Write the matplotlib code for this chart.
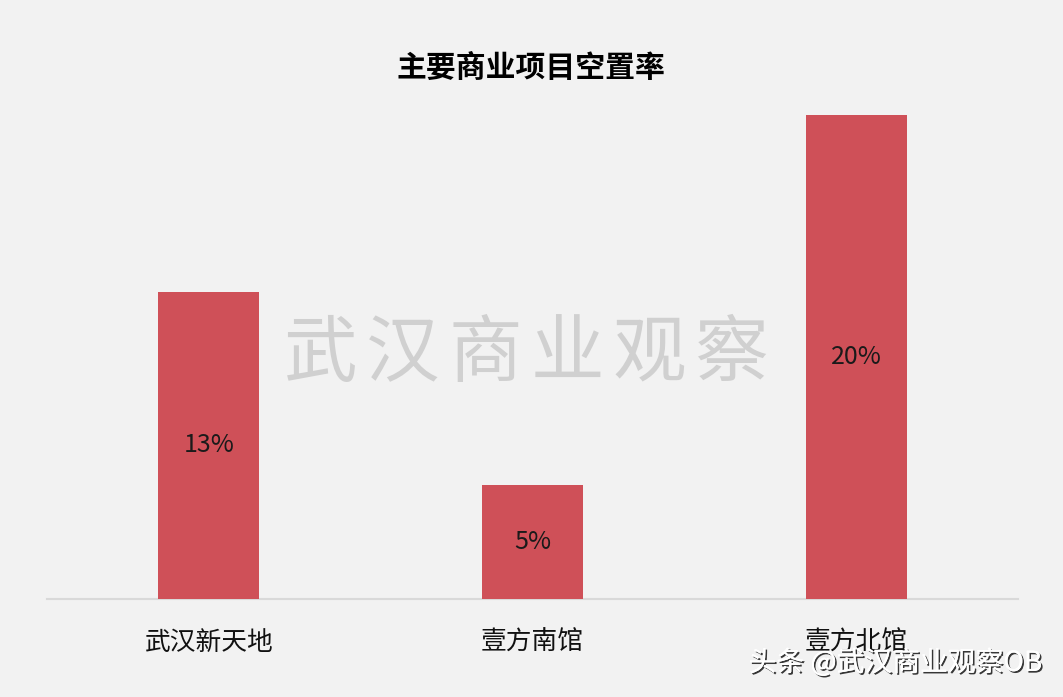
import matplotlib
matplotlib.use("Agg")
import matplotlib.pyplot as plt
import matplotlib.patheffects as pe

plt.rcParams['font.family'] = ['Noto Sans CJK SC', 'DejaVu Sans']

title = "主要商业项目空置率"
categories = ["武汉新天地", "壹方南馆", "壹方北馆"]
vacancy = [0.127, 0.047, 0.200]
value_labels = ["13%", "5%", "20%"]
watermark = "武汉商业观察"
credit = "头条 @武汉商业观察OB"

bg = "#f2f2f2"
bar_color = "#cf5058"

fig = plt.figure(figsize=(10.63, 6.97), dpi=100, facecolor=bg)
W, H = 1063, 697
ax = fig.add_axes([47 / W, (H - 599) / H, 971 / W, 484 / H])
ax.set_facecolor(bg)

x = range(len(categories))
bars = ax.bar(x, vacancy, width=0.312, color=bar_color, zorder=3)
ax.set_xlim(-0.5, len(categories) - 0.5)
ax.set_ylim(0, max(vacancy))

for b, lab in zip(bars, value_labels):
    ax.text(b.get_x() + b.get_width() / 2, b.get_height() / 2, lab,
            ha="center", va="center", fontsize=18, color="#1a1a1a", zorder=4)

for s in ["top", "right", "left"]:
    ax.spines[s].set_visible(False)
ax.spines["bottom"].set_color("#d9d9d9")
ax.spines["bottom"].set_linewidth(1.5)
ax.set_yticks([])
ax.set_xticks(list(x))
ax.set_xticklabels(categories, fontsize=18.5, color="#111111")
ax.tick_params(axis="x", length=0, pad=22)

fig.text(531 / W, 1 - 68 / H, title, ha="center", va="center",
         fontsize=21.5, fontweight="bold", color="#000000")

# watermark
for i, ch in enumerate(watermark):
    cx = (321 + i * 82) / W
    fig.text(cx, 1 - 355 / H, ch, ha="center", va="center", fontsize=53,
             fontweight="normal", color="#d0d0d0", zorder=1)

fig.text(1042 / W, 1 - 663 / H, credit, ha="right", va="center",
         fontsize=20, color="white",
         path_effects=[pe.withSimplePatchShadow(offset=(1.2, -1.2), shadow_rgbFace="#222222", alpha=0.9),
                       pe.Normal()])

fig.savefig("out.png", dpi=100, facecolor=bg)
